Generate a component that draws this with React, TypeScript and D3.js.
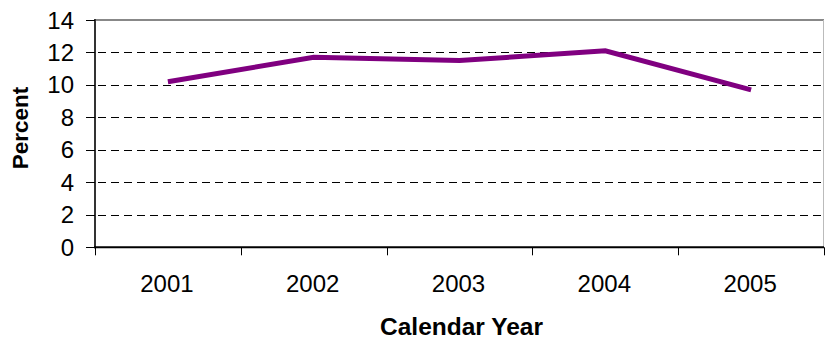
import React from "react";
import * as d3 from "d3";

const years = ["2001", "2002", "2003", "2004", "2005"];
const percentValues = [10.2, 11.7, 11.5, 12.1, 9.7];
const yTickValues = [0, 2, 4, 6, 8, 10, 12, 14];

const W = 825;
const H = 340;
const margin = { left: 95, right: 1, top: 20, bottom: 93 };
const FONT = "'Liberation Sans', Arial, sans-serif";

export default function App() {
  const x = d3
    .scaleBand<string>()
    .domain(years)
    .range([margin.left, W - margin.right])
    .paddingInner(0)
    .paddingOuter(0);
  const y = d3
    .scaleLinear()
    .domain([0, 14])
    .range([H - margin.bottom + 0.3, margin.top]);

  const line = d3
    .line<number>()
    .x((_, i) => (x(years[i]) as number) + x.bandwidth() / 2)
    .y((d) => y(d));

  const x0 = margin.left;
  const x1 = W - margin.right;
  const yBase = y(0);
  const yTop = y(14);

  // boundaries between categories for the bottom ticks
  const boundaries = years.map((yr) => x(yr) as number).concat([x1]);

  return (
    <svg
      width={W}
      height={H}
      style={{ position: "fixed", left: 0, top: 0, background: "#fff" }}
      fontFamily={FONT}
    >
      {/* plot frame: top and right borders */}
      <line x1={x0} x2={x1} y1={yTop} y2={yTop} stroke="#888" strokeWidth={2} />
      <line x1={x1 - 0.5} x2={x1 - 0.5} y1={yTop} y2={yBase} stroke="#bbb" strokeWidth={1} />

      {/* dashed gridlines */}
      {yTickValues
        .filter((v) => v > 0 && v < 14)
        .map((v) => (
          <line
            key={"g" + v}
            x1={x0}
            x2={x1 - 1}
            y1={Math.round(y(v)) + 0.5}
            y2={Math.round(y(v)) + 0.5}
            stroke="#000"
            strokeWidth={1}
            strokeDasharray="8,5"
            strokeDashoffset={-3}
          />
        ))}

      {/* y axis */}
      <line x1={x0} x2={x0} y1={yTop - 1} y2={yBase + 1} stroke="#333" strokeWidth={2} />
      {yTickValues.map((v) => (
        <g key={"y" + v}>
          <line
            x1={x0 - 9}
            x2={x0}
            y1={Math.round(y(v)) + 0.5}
            y2={Math.round(y(v)) + 0.5}
            stroke="#000"
            strokeWidth={1}
          />
          <text
            x={74}
            y={y(v)}
            textAnchor="end"
            dominantBaseline="central"
            fontSize={24}
            fill="#000"
          >
            {v}
          </text>
        </g>
      ))}

      {/* x axis */}
      <line x1={x0 - 1} x2={x1} y1={yBase} y2={yBase} stroke="#000" strokeWidth={2} />
      {boundaries.map((bx, i) => (
        <line
          key={"t" + i}
          x1={Math.round(bx) + 0.5}
          x2={Math.round(bx) + 0.5}
          y1={yBase}
          y2={yBase + 8}
          stroke="#000"
          strokeWidth={1}
        />
      ))}
      {years.map((yr) => (
        <text
          key={"x" + yr}
          x={(x(yr) as number) + x.bandwidth() / 2 - 1}
          y={291.5}
          textAnchor="middle"
          fontSize={24}
          fill="#000"
        >
          {yr}
        </text>
      ))}

      {/* data line */}
      <path
        d={line(percentValues) || ""}
        fill="none"
        stroke="#800080"
        strokeWidth={5}
        strokeLinejoin="miter"
        strokeLinecap="butt"
      />

      {/* axis titles */}
      <text
        x={461.5}
        y={335}
        textAnchor="middle"
        fontSize={24.5}
        fontWeight="bold"
        fill="#000"
      >
        Calendar Year
      </text>
      <text
        transform={`translate(28,128) rotate(-90)`}
        textAnchor="middle"
        fontSize={22.5}
        fontWeight="bold"
        fill="#000"
      >
        Percent
      </text>
    </svg>
  );
}
